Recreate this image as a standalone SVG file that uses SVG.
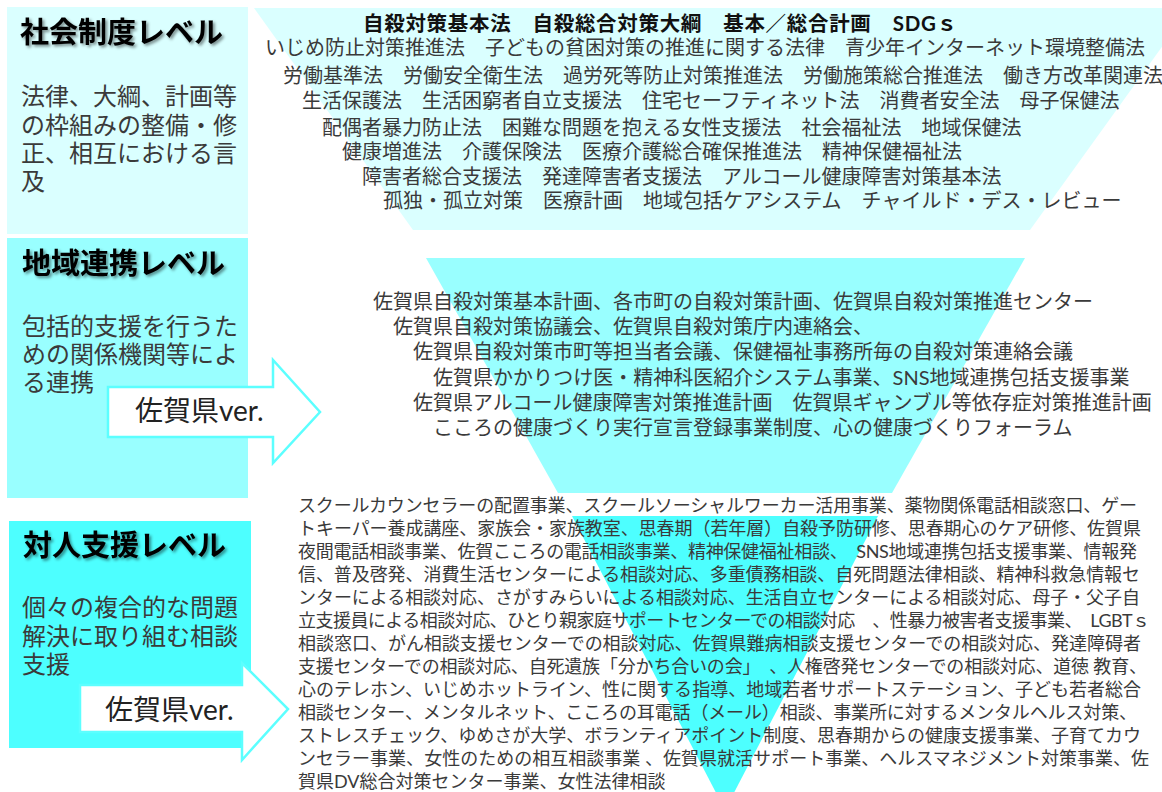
<svg xmlns="http://www.w3.org/2000/svg" width="1162" height="792" viewBox="0 0 1162 792">
<defs>
<style>
text { font-family: Lato, 'Noto Sans CJK JP', 'Noto Sans CJK SC', sans-serif; fill: #3a3a3a; }
.title { font-size: 29px; font-weight: bold; fill: #000; filter: url(#shadow); }
.desc { font-size: 24px; fill: #3a3a3a; }
.law { font-size: 20px; fill: #3a3a3a; }
.lawb { font-size: 20.5px; font-weight: bold; fill: #111; }
.reg { font-size: 20px; fill: #3a3a3a; }
.ind { font-size: 18px; fill: #3a3a3a; }
.ver { font-size: 28px; fill: #222; }
.arrow { fill: #fff; stroke: #5cffff; stroke-width: 2.5; }
.l1 { fill: #DAFFFF; }
.l2 { fill: #99FFFF; }
.l3 { fill: #4DFFFF; }
</style>
<filter id="shadow" x="-10%" y="-20%" width="130%" height="160%">
<feDropShadow dx="2" dy="2" stdDeviation="1.5" flood-color="#000" flood-opacity="0.45"/>
</filter>
</defs>
<rect width="1162" height="792" fill="#fff"/>

<g id="funnel">
<polygon class="l1" points="254,8 1190,8 1030,230 413,230"/>
<polygon class="l2" points="426,258 1025,258 892,493 558,493"/>
<polygon class="l3" points="572,516 878,516 725,810"/>
</g>

<g id="level-social">
<rect class="l1" x="7" y="7" width="241" height="227"/>
<text class="title" x="20" y="43">社会制度レベル</text>
<text class="desc" x="21" y="105">法律、大綱、計画等</text>
<text class="desc" x="21" y="134">の枠組みの整備・修</text>
<text class="desc" x="21" y="162">正、相互における言</text>
<text class="desc" x="21" y="190">及</text>
</g>

<g id="level-regional">
<rect class="l2" x="7" y="238" width="241" height="260"/>
<text class="title" x="22" y="274">地域連携レベル</text>
<text class="desc" x="22" y="335">包括的支援を行うた</text>
<text class="desc" x="22" y="363">めの関係機関等によ</text>
<text class="desc" x="22" y="391">る連携</text>
</g>

<g id="level-personal">
<rect class="l3" x="9" y="521" width="242" height="227"/>
<text class="title" x="23" y="556">対人支援レベル</text>
<text class="desc" x="22" y="616">個々の複合的な問題</text>
<text class="desc" x="22" y="645">解決に取り組む相談</text>
<text class="desc" x="22" y="673">支援</text>
</g>

<g id="connectors">
<g id="arrow-regional">
<polygon class="arrow" points="108,387 273,387 273,360 320,412 273,463 273,437 108,437"/>
<text class="ver" x="135" y="421">佐賀県ver.</text>
</g>
<g id="arrow-personal">
<polygon class="arrow" points="80,685 242,685 242,663 288,709 242,760 242,732 80,732"/>
<text class="ver" x="105" y="720">佐賀県ver.</text>
</g>
</g>

<g id="social-items">
<text class="lawb" x="363" y="31" textLength="594" lengthAdjust="spacing">自殺対策基本法　自殺総合対策大綱　基本／総合計画　SDGｓ</text>
<text class="law" x="265" y="55">いじめ防止対策推進法　子どもの貧困対策の推進に関する法律　青少年インターネット環境整備法</text>
<text class="law" x="283" y="83">労働基準法　労働安全衛生法　過労死等防止対策推進法　労働施策総合推進法　働き方改革関連法</text>
<text class="law" x="302" y="108">生活保護法　生活困窮者自立支援法　住宅セーフティネット法　消費者安全法　母子保健法</text>
<text class="law" x="322" y="135">配偶者暴力防止法　困難な問題を抱える女性支援法　社会福祉法　地域保健法</text>
<text class="law" x="342" y="159">健康増進法　介護保険法　医療介護総合確保推進法　精神保健福祉法</text>
<text class="law" x="362" y="184">障害者総合支援法　発達障害者支援法　アルコール健康障害対策基本法</text>
<text class="law" x="383" y="208">孤独・孤立対策　医療計画　地域包括ケアシステム　チャイルド・デス・レビュー</text>
</g>

<g id="regional-items">
<text class="reg" x="373" y="309">佐賀県自殺対策基本計画、各市町の自殺対策計画、佐賀県自殺対策推進センター</text>
<text class="reg" x="393" y="334">佐賀県自殺対策協議会、佐賀県自殺対策庁内連絡会、</text>
<text class="reg" x="413" y="359">佐賀県自殺対策市町等担当者会議、保健福祉事務所毎の自殺対策連絡会議</text>
<text class="reg" x="433" y="385">佐賀県かかりつけ医・精神科医紹介システム事業、SNS地域連携包括支援事業</text>
<text class="reg" x="413" y="410">佐賀県アルコール健康障害対策推進計画　佐賀県ギャンブル等依存症対策推進計画</text>
<text class="reg" x="433" y="435">こころの健康づくり実行宣言登録事業制度、心の健康づくりフォーラム</text>
</g>

<g id="personal-items">
<text class="ind" x="298" y="512" textLength="839" lengthAdjust="spacing">スクールカウンセラーの配置事業、スクールソーシャルワーカー活用事業、薬物関係電話相談窓口、ゲー</text>
<text class="ind" x="298" y="535" textLength="843" lengthAdjust="spacing">トキーパー養成講座、家族会・家族教室、思春期（若年層）自殺予防研修、思春期心のケア研修、佐賀県</text>
<text class="ind" x="298" y="558" textLength="839" lengthAdjust="spacing">夜間電話相談事業、佐賀こころの電話相談事業、精神保健福祉相談、　SNS地域連携包括支援事業、情報発</text>
<text class="ind" x="298" y="581" textLength="842" lengthAdjust="spacing">信、普及啓発、消費生活センターによる相談対応、多重債務相談、自死問題法律相談、精神科救急情報セ</text>
<text class="ind" x="298" y="604" textLength="842" lengthAdjust="spacing">ンターによる相談対応、さがすみらいによる相談対応、生活自立センターによる相談対応、母子・父子自</text>
<text class="ind" x="298" y="627" textLength="852" lengthAdjust="spacing">立支援員による相談対応、ひとり親家庭サポートセンターでの相談対応　、性暴力被害者支援事業、　LGBTｓ</text>
<text class="ind" x="298" y="650" textLength="843" lengthAdjust="spacing">相談窓口、がん相談支援センターでの相談対応、佐賀県難病相談支援センターでの相談対応、発達障碍者</text>
<text class="ind" x="298" y="673" textLength="849" lengthAdjust="spacing">支援センターでの相談対応、自死遺族「分かち合いの会」　、人権啓発センターでの相談対応、道徳 教育、</text>
<text class="ind" x="298" y="696" textLength="843" lengthAdjust="spacing">心のテレホン、いじめホットライン、性に関する指導、地域若者サポートステーション、子ども若者総合</text>
<text class="ind" x="298" y="719" textLength="839" lengthAdjust="spacing">相談センター、メンタルネット、こころの耳電話（メール）相談、事業所に対するメンタルヘルス対策、</text>
<text class="ind" x="298" y="742" textLength="843" lengthAdjust="spacing">ストレスチェック、ゆめさが大学、ボランティアポイント制度、思春期からの健康支援事業、子育てカウ</text>
<text class="ind" x="298" y="765" textLength="851" lengthAdjust="spacing">ンセラー事業、女性のための相互相談事業 、佐賀県就活サポート事業、ヘルスマネジメント対策事業、佐</text>
<text class="ind" x="298" y="788">賀県DV総合対策センター事業、女性法律相談</text>
</g>
</svg>
